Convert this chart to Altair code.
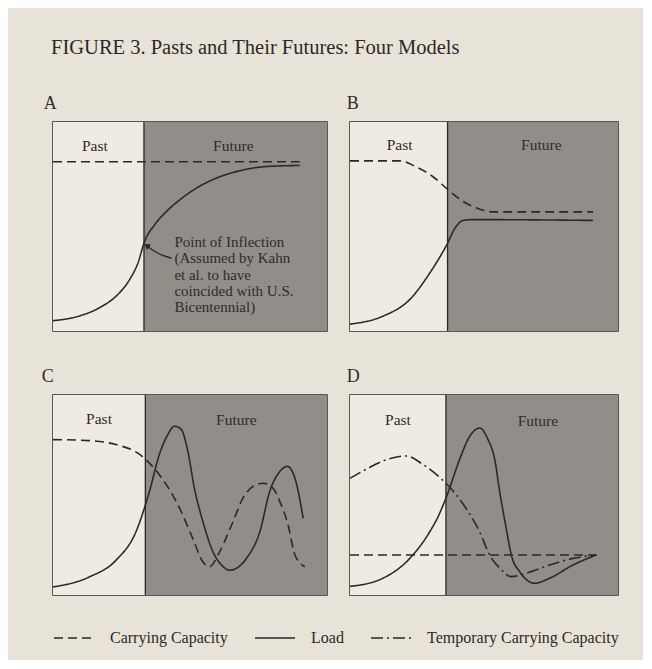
import altair as alt
import pandas as pd

TITLE = "FIGURE 3.  Pasts and Their Futures: Four Models"
SERIES = ["Carrying Capacity", "Load", "Temporary Carrying Capacity"]
DASHES = [[9, 5], [1, 0], [12, 4, 2, 4]]

# ---- Panel A ----
A_cc_x = [0, 90]
A_cc_y = [81, 81]
A_load_x = [0, 9.9, 17.2, 23.2, 28.1, 31.1, 33.3, 37.2, 41.5, 46.4, 52.4, 59.7, 68.2, 78, 90.1]
A_load_y = [4.9, 7.3, 11.3, 16.9, 24.9, 32.9, 42.4, 51, 57.3, 62.9, 68.4, 73.2, 76.7, 78.7, 79.2]

# ---- Panel B ----
B_cc_x = [0, 18.7, 24.6, 31, 36.6, 42.2, 47, 53.4, 90.7]
B_cc_y = [81.4, 81.4, 78.6, 73.8, 67.6, 62, 59, 57, 57]
B_load_x = [0, 12.3, 22.4, 29.9, 35.8, 39.6, 42.2, 45.9, 90.7]
B_load_y = [3.3, 7.1, 15.2, 28, 40.5, 50, 52.9, 53.3, 52.9]

# ---- Panel C ----
C_cc_x = [0, 13.2, 23, 31.5, 36.3, 41.3, 46.2, 51, 54.7, 57.1, 60.8, 65.7, 69.3, 73, 76.7, 80.3, 82.8, 85.8, 88.3, 91.9]
C_cc_y = [77.7, 77.2, 75.2, 70.4, 64.3, 55.3, 43.4, 28.3, 16.6, 14.1, 21.6, 36.7, 48.4, 54.3, 55.9, 53.4, 46.7, 35, 20, 14.1]
C_load_x = [0, 13.2, 23, 30.3, 35.2, 38.8, 41.9, 44.3, 46.8, 49.2, 51.6, 54.7, 58.4, 61.5, 64.5, 70.6, 75.5, 79.1, 82.8, 85.5, 88.3, 91.3]
C_load_y = [4, 9, 17.4, 31.7, 51.8, 70.2, 80.2, 84.4, 82.8, 71.9, 53.4, 36.7, 21.6, 15, 12.4, 18.3, 31.7, 51.8, 61.8, 64.3, 58.4, 38.3]

# ---- Panel D ----
D_cc_x = [0, 92]
D_cc_y = [20, 20]
D_tcc_x = [0, 6.1, 12.3, 21, 27.2, 33.5, 38.4, 43.4, 48.4, 52.1, 55.9, 60.2, 65.8, 74.5, 83.2, 91.9]
D_tcc_y = [58.3, 62.9, 67, 69.5, 65.3, 58.8, 52.1, 43.1, 31.5, 20, 13.4, 9.2, 10.9, 15, 18.3, 20]
D_load_x = [0, 12.3, 22.3, 29.7, 32.8, 36.6, 40.9, 44.7, 48.4, 51.5, 54, 55.9, 58.3, 60.2, 63.3, 68.9, 74.5, 83.2, 91.9]
D_load_y = [4.3, 8.4, 18.3, 31.5, 39, 51.3, 67.8, 79.4, 83.5, 77.7, 67.8, 51.3, 33.2, 20, 11.7, 5.9, 8.4, 15, 20]

DIVIDER = {"A": 33.2, "B": 36.4, "C": 33.7, "D": 35.8}
PAST_POS = {"A": (15.3, 88.7), "B": (18.5, 89), "C": (16.8, 88), "D": (17.9, 87.3)}
FUTURE_POS = {"A": (65.8, 88.7), "B": (71.4, 89), "C": (66.9, 87.4), "D": (70.1, 86.8)}

NOTE_LINES = ["Point of Inflection", "(Assumed by Kahn", "et al. to have", "coincided with U.S.", "Bicentennial)"]
NOTE_X = 44.3
NOTE_Y = [42.7, 34.8, 26.9, 19.0, 11.3]
ARROW_X = [43.3, 38.4, 35.4, 34.2]
ARROW_Y = [34.8, 37.2, 39.6, 40.9]

SERIF = "Liberation Serif"
INK = "#2b2926"
PAGE = "#e8e3d8"
PAST_FILL = "#efebe3"
FUTURE_FILL = "#918e89"

XS = alt.Scale(domain=[0, 100], nice=False, zero=False)
YS = alt.Scale(domain=[0, 100], nice=False, zero=False)


def series_df(parts):
    rows = []
    for name, xs, ys in parts:
        for i, (x, y) in enumerate(zip(xs, ys)):
            rows.append({"series": name, "x": x, "y": y, "i": i})
    return pd.DataFrame(rows)


def panel(key, parts, w, h, label_dx, note=False):
    div = DIVIDER[key]
    regions = pd.DataFrame({"region": ["Past", "Future"], "x0": [0, div], "x1": [div, 100],
                            "y0": [0, 0], "y1": [100, 100],
                            "lx": [PAST_POS[key][0], FUTURE_POS[key][0]],
                            "ly": [PAST_POS[key][1], FUTURE_POS[key][1]]})
    bg = alt.Chart(regions).mark_rect().encode(
        x=alt.X("x0:Q", scale=XS, axis=None), x2="x1",
        y=alt.Y("y0:Q", scale=YS, axis=None), y2="y1",
        color=alt.Color("region:N", scale=alt.Scale(domain=["Past", "Future"], range=[PAST_FILL, FUTURE_FILL]), legend=None),
    )
    divider = alt.Chart(regions[regions.region == "Future"]).mark_rule(color=INK, strokeWidth=1.3).encode(
        x=alt.X("x0:Q", scale=XS, axis=None), y=alt.Y("y0:Q", scale=YS, axis=None), y2="y1")
    labels = alt.Chart(regions).mark_text(font=SERIF, fontSize=15.5, color="#2e2c29").encode(
        x=alt.X("lx:Q", scale=XS, axis=None), y=alt.Y("ly:Q", scale=YS, axis=None), text="region:N")
    lines = alt.Chart(series_df(parts)).mark_line(color=INK, strokeWidth=1.6, interpolate="monotone").encode(
        x=alt.X("x:Q", scale=XS, axis=None), y=alt.Y("y:Q", scale=YS, axis=None),
        strokeDash=alt.StrokeDash("series:N", scale=alt.Scale(domain=SERIES, range=DASHES), title=None),
        detail="series:N", order="i:Q")
    layers = [bg, divider, labels, lines]
    if note:
        ndf = pd.DataFrame({"t": NOTE_LINES, "x": [NOTE_X] * len(NOTE_LINES), "y": NOTE_Y})
        layers.append(alt.Chart(ndf).mark_text(font=SERIF, fontSize=15, color="#2e2c29", align="left").encode(
            x=alt.X("x:Q", scale=XS, axis=None), y=alt.Y("y:Q", scale=YS, axis=None), text="t:N"))
        adf = pd.DataFrame({"x": ARROW_X, "y": ARROW_Y, "i": range(len(ARROW_X))})
        layers.append(alt.Chart(adf).mark_line(color=INK, strokeWidth=1.4, interpolate="monotone").encode(
            x=alt.X("x:Q", scale=XS, axis=None), y=alt.Y("y:Q", scale=YS, axis=None), order="i:Q"))
        hdf = adf.tail(1)
        layers.append(alt.Chart(hdf).mark_point(shape="triangle-up", filled=True, size=45, color=INK, angle=305, opacity=1).encode(
            x=alt.X("x:Q", scale=XS, axis=None), y=alt.Y("y:Q", scale=YS, axis=None)))
    return alt.layer(*layers).properties(
        width=w, height=h,
        title=alt.TitleParams(text=key, anchor="start", font=SERIF, fontSize=18, fontWeight="normal",
                              color="#2e2c29", offset=8, dx=label_dx),
    )


pA = panel("A", [("Carrying Capacity", A_cc_x, A_cc_y), ("Load", A_load_x, A_load_y)], 274, 209, -6, note=True)
pB = panel("B", [("Carrying Capacity", B_cc_x, B_cc_y), ("Load", B_load_x, B_load_y)], 268, 209, 0)
pC = panel("C", [("Carrying Capacity", C_cc_x, C_cc_y), ("Load", C_load_x, C_load_y)], 274, 200, -8)
pD = panel("D", [("Carrying Capacity", D_cc_x, D_cc_y), ("Load", D_load_x, D_load_y),
                 ("Temporary Carrying Capacity", D_tcc_x, D_tcc_y)], 268, 200, 0)

chart = alt.vconcat(
    alt.hconcat(pA, pB, spacing=18),
    alt.hconcat(pC, pD, spacing=18),
    spacing=34,
).properties(
    title=alt.TitleParams(text=TITLE, anchor="start", font=SERIF, fontSize=20.5, fontWeight="normal",
                          color="#2b2926", offset=36, dx=10),
    background=PAGE,
    padding={"left": 33, "top": 30, "right": 24, "bottom": 14},
).configure_view(
    stroke=INK, strokeWidth=1.5
).configure_legend(
    orient="bottom", direction="horizontal", symbolType="stroke", symbolSize=1600,
    symbolStrokeWidth=1.5, symbolStrokeColor=INK, labelFont=SERIF, labelFontSize=16,
    labelColor="#2b2926", labelOffset=15, columnPadding=24, labelLimit=300, offset=20
)

chart.save("out.html", embed_options={"renderer": "svg", "actions": False})
